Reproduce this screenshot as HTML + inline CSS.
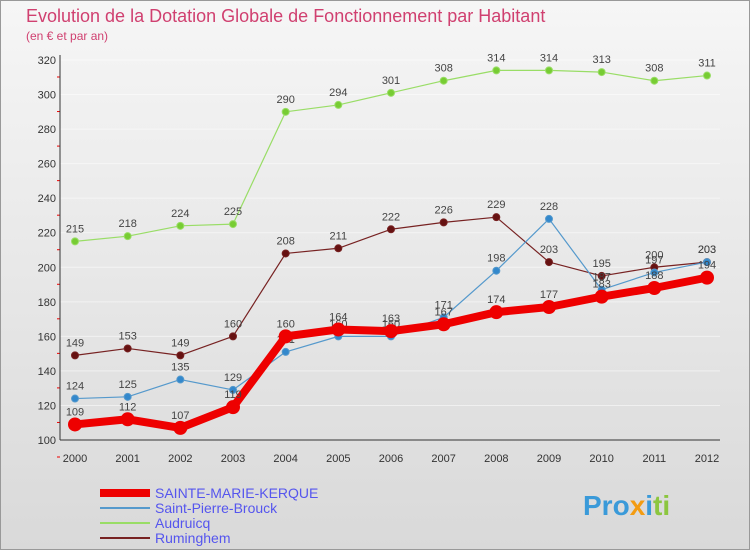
<!DOCTYPE html>
<html><head><meta charset="utf-8"><style>
body{margin:0;width:750px;height:550px;overflow:hidden;font-family:"Liberation Sans",sans-serif;}
svg text{font-family:"Liberation Sans",sans-serif;}
</style></head><body>
<svg width="750" height="550" xmlns="http://www.w3.org/2000/svg">
<defs><linearGradient id="bg" x1="0" y1="0" x2="0" y2="1"><stop offset="0" stop-color="#f6f6f6"/><stop offset="1" stop-color="#d9d9d9"/></linearGradient></defs>
<rect x="0.5" y="0.5" width="749" height="549" fill="url(#bg)" stroke="#999"/>
<text x="26" y="22" font-size="18" fill="#d04070">Evolution de la Dotation Globale de Fonctionnement par Habitant</text>
<text x="26" y="40" font-size="12" fill="#d04070">(en € et par an)</text>
<g id="axes"></g><g id="series"></g><g id="legend"></g>
<text x="583" y="515" font-size="28" font-weight="bold" fill="#3a9ad9">Pro<tspan fill="#f39c12">x</tspan><tspan fill="#3a9ad9">i</tspan><tspan fill="#8cc63f">ti</tspan></text>
</svg>
<script>
const years=[2000,2001,2002,2003,2004,2005,2006,2007,2008,2009,2010,2011,2012];
const yTicks=[100,120,140,160,180,200,220,240,260,280,300,320];
const sainteMarie=[109,112,107,119,160,164,163,167,174,177,183,188,194];
const saintPierre=[124,125,135,129,151,160,160,171,198,228,187,197,203];
const audruicq=[215,218,224,225,290,294,301,308,314,314,313,308,311];
const ruminghem=[149,153,149,160,208,211,222,226,229,203,195,200,203];
const NS="http://www.w3.org/2000/svg";
const x=i=>75+i*(707-75)/(years.length-1);
const y=v=>440-(v-100)*(380/220);
function mk(t,a,p){const e=document.createElementNS(NS,t);for(const k in a)e.setAttribute(k,a[k]);p.appendChild(e);return e;}
const ax=document.getElementById('axes');
yTicks.forEach(t=>{
 const l=mk('line',{x1:60,x2:720,y1:y(t),y2:y(t),stroke:'#fff','stroke-width':1,'stroke-opacity':0.5},ax);
 
 
 mk('line',{x1:57,x2:60,y1:y(t)+17,y2:y(t)+17,stroke:'#e00','stroke-width':1},ax);
 const tx=mk('text',{x:56,y:y(t)+4,'font-size':11,'text-anchor':'end',fill:'#333'},ax);tx.textContent=t;
 
 
});
mk('line',{x1:60,x2:60,y1:55,y2:440,stroke:'#333'},ax);
mk('line',{x1:60,x2:720,y1:440,y2:440,stroke:'#333'},ax);
years.forEach((yr,i)=>{
 const tx=mk('text',{x:x(i),y:462,'font-size':11,'text-anchor':'middle',fill:'#333'},ax);tx.textContent=yr;
 
 
});
const sg=document.getElementById('series');
function series(arr,color,w,r,name,fill){
 const g=mk('g',{},sg);
 
 
 mk('polyline',{points:arr.map((v,i)=>x(i)+','+y(v)).join(' '),fill:'none',stroke:color,'stroke-width':w,'stroke-linejoin':'round'},g);
 arr.forEach((v,i)=>{
  const c=mk('circle',{cx:x(i),cy:y(v),r:r,fill:fill,stroke:color,'stroke-width':1},g);
  
  
  const t=mk('text',{x:x(i),y:y(v)-9,'font-size':11,'text-anchor':'middle',fill:'#444'},g);t.textContent=v;
  
  
 });
}
series(audruicq,'#99dd66',1.2,3.5,'series-audruicq','#77cc33');
series(ruminghem,'#772222',1.2,3.5,'series-ruminghem','#661111');
series(saintPierre,'#5599cc',1.2,3.5,'series-saint-pierre-brouck','#3388cc');
series(sainteMarie,'#ee0000',8,6.5,'series-sainte-marie-kerque','#ee0000');
const lg=document.getElementById('legend');
[['SAINTE-MARIE-KERQUE','#ee0000',8],['Saint-Pierre-Brouck','#5599cc',2],['Audruicq','#99dd66',2],['Ruminghem','#772222',2]].forEach((e,i)=>{
 const yy=493+i*15;
 const g=mk('g',{},lg);
 
 
 mk('line',{x1:100,x2:150,y1:yy,y2:yy,stroke:e[1],'stroke-width':e[2]},g);
 const t=mk('text',{x:155,y:yy+5,'font-size':14,fill:'#5555ee'},g);t.textContent=e[0];
});
</script>
</body></html>
